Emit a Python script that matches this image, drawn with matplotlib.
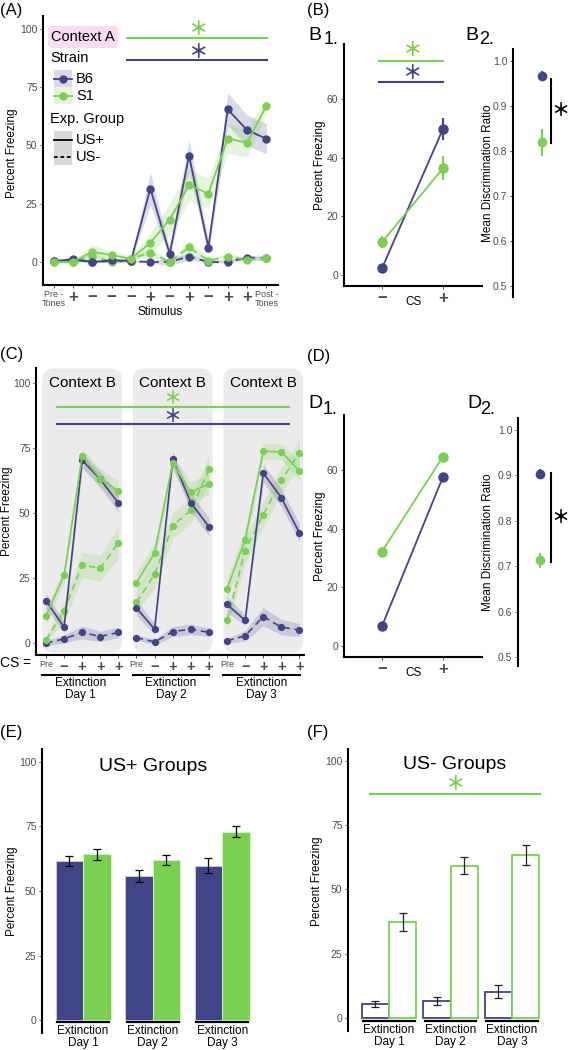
import numpy as np
import matplotlib
matplotlib.use("Agg")
import matplotlib.pyplot as plt
import matplotlib.transforms as mtransforms
from matplotlib.patches import FancyBboxPatch, Rectangle
from matplotlib.lines import Line2D

plt.rcParams["font.family"] = ["Liberation Sans", "DejaVu Sans"]

BLUE = "#414487"   # B6
GREEN = "#7AD151"  # S1
TICK_GREY = "#4D4D4D"

# ---- (A) acquisition, context A ----
a_labels = ["Pre -\nTones", "+", "−", "−", "−", "+", "−", "+", "−", "+", "+", "Post -\nTones"]
a_b6_usp = [0.3, 1.2, 0.0, 0.7, 0.5, 31.5, 3.5, 45.7, 6.2, 65.5, 56.6, 52.9]
a_b6_usp_se = [0.5, 0.8, 0.4, 0.6, 0.6, 7.0, 2.0, 7.0, 3.0, 7.0, 6.5, 6.5]
a_b6_usm = [0.3, 1.0, 0.0, 0.4, 0.3, 0.0, 0.0, 2.3, 0.0, 0.0, 1.9, 1.5]
a_b6_usm_se = [0.5, 0.5, 0.3, 0.5, 0.5, 0.5, 1.5, 1.5, 0.5, 0.5, 1.0, 1.0]
a_s1_usp = [0.0, 0.0, 4.4, 2.9, 1.4, 8.2, 18.2, 33.0, 29.3, 53.0, 51.2, 67.0]
a_s1_usp_se = [0.5, 0.5, 3.0, 1.5, 1.5, 4.0, 7.0, 7.0, 6.5, 6.5, 6.0, 3.5]
a_s1_usm = [0.0, 0.0, 2.5, 0.0, 1.4, 4.0, 0.0, 6.3, 0.6, 2.2, 1.0, 1.6]
a_s1_usm_se = [0.5, 0.5, 2.0, 1.0, 1.0, 2.0, 0.5, 3.0, 1.0, 1.5, 1.0, 1.0]

# ---- (B) CS- vs CS+ and discrimination ratio ----
cs_labels = ["−", "+"]
b1_b6 = [2.3, 49.8]
b1_b6_se = [0.8, 3.8]
b1_s1 = [11.2, 36.4]
b1_s1_se = [2.0, 4.0]
b2_ratio = [0.967, 0.820]   # B6, S1
b2_ratio_se = [0.010, 0.030]

# ---- (C) extinction days, context B ----
c_labels = ["Pre", "−", "+", "+", "+"] * 3
c_b6_usp = [16.3, 6.1, 70.3, 63.0, 53.8, 13.5, 5.3, 70.7, 54.0, 44.7, 14.9, 8.7, 65.4, 55.9, 42.3]
c_b6_usp_se = [3, 2, 3, 3, 3.5, 3, 2, 3, 3.5, 3.5, 3, 2, 3.5, 3.5, 3.5]
c_b6_usm = [0.0, 1.6, 4.1, 2.5, 4.1, 2.1, 0.4, 4.4, 5.3, 4.1, 0.9, 2.8, 10.2, 6.1, 5.0]
c_b6_usm_se = [1, 1.5, 2.5, 2, 2, 1, 1, 2, 2, 1.5, 1, 2, 3.5, 3, 2.5]
c_s1_usp = [10.5, 26.0, 72.0, 63.2, 58.5, 23.2, 34.7, 69.2, 58.0, 61.2, 20.9, 39.8, 73.8, 73.5, 66.3]
c_s1_usp_se = [3, 3, 2.5, 4, 4, 4, 4, 3, 4, 4, 4, 4, 3, 3, 4]
c_s1_usm = [1.2, 12.3, 30.1, 28.7, 38.6, 15.7, 26.4, 45.2, 51.0, 66.9, 8.7, 35.5, 49.4, 62.6, 73.2]
c_s1_usm_se = [1, 4, 5, 5, 6, 4, 5, 5, 5, 5, 3, 5, 5, 5, 5]
days = ["Extinction\nDay 1", "Extinction\nDay 2", "Extinction\nDay 3"]

# ---- (D) extinction summary ----
d1_b6 = [6.8, 57.7]
d1_b6_se = [0.8, 1.2]
d1_s1 = [32.2, 64.6]
d1_s1_se = [1.7, 1.0]
d2_ratio = [0.903, 0.713]
d2_ratio_se = [0.012, 0.017]

# ---- (E) US+ groups, (F) US- groups ----
e_b6 = [61.6, 55.8, 59.8]
e_b6_se = [2.1, 2.4, 2.8]
e_s1 = [64.2, 62.0, 72.9]
e_s1_se = [2.1, 2.1, 2.1]
f_b6 = [5.4, 6.6, 10.2]
f_b6_se = [1.3, 1.4, 2.5]
f_s1 = [37.4, 59.3, 63.5]
f_s1_se = [3.4, 3.2, 3.8]

# ------------------------------------------------------------------
W, H = 570, 1050
fig = plt.figure(figsize=(W / 100, H / 100), dpi=100)
# pixel coords with origin top-left
PX = mtransforms.Affine2D().scale(1 / W, -1 / H).translate(0, 1) + fig.transFigure


def add_ax(left, top, right, bottom):
    return fig.add_axes([left / W, 1 - bottom / H, (right - left) / W, (bottom - top) / H])


def classic(ax, bottom=True):
    ax.set_facecolor("none")
    for side in ["top", "right"]:
        ax.spines[side].set_visible(False)
    ax.spines["left"].set_linewidth(1.5)
    ax.spines["bottom"].set_linewidth(1.5)
    if not bottom:
        ax.spines["bottom"].set_visible(False)
        ax.tick_params(axis="x", bottom=False, labelbottom=False)
    ax.tick_params(colors="#333333", labelcolor=TICK_GREY, labelsize=7.5,
                   length=2.5, width=0.6, pad=1.5)


def style_cs_ticks(ax):
    for lab in ax.get_xticklabels():
        if lab.get_text() in ("+", "−"):
            lab.set_fontweight("bold")
            lab.set_fontsize(12)
        else:
            lab.set_fontsize(6.5)
            lab.set_linespacing(1.0)


def star(ax, x, y, color, size=14):
    # full-width asterisk: big glyph in a small text box
    tr = mtransforms.offset_copy(ax.transData, fig=fig, y=-0.36 * size, units="points")
    ax.text(x, y, "＊", color=color, fontsize=size, fontweight="bold", ha="center",
            va="baseline", family=["Noto Sans CJK JP", "DejaVu Sans"],
            transform=tr, clip_on=False)


def ylabel(ax, text, x_frac, y_frac=0.5):
    ax.set_ylabel(text, fontsize=8.5, va="center")
    ax.yaxis.set_label_coords(x_frac, y_frac)


def trace(ax, x, vals, se, color, dashed, ms=5, lw=1.3):
    vals = np.asarray(vals)
    se = np.asarray(se)
    ax.fill_between(x, vals - se, vals + se, color=color, alpha=0.2, lw=0)
    line, = ax.plot(x, vals, color=color, lw=lw, marker="o", ms=ms)
    if dashed:
        line.set_dashes((4, 2.8))


def panel_label(x, y, s):
    fig.text(x, y, s, transform=PX, fontsize=12, ha="left", va="center")


def sub_label(x, y, letter, num, dx):
    fig.text(x, y, letter, transform=PX, fontsize=14, ha="left", va="center")
    fig.text(x + dx, y + 5, num, transform=PX, fontsize=13, ha="left", va="center")


# ---------------- (A) ----------------
axA = add_ax(43, 16, 278, 285)
classic(axA)
xa = np.arange(len(a_labels))
trace(axA, xa, a_b6_usm, a_b6_usm_se, BLUE, True)
trace(axA, xa, a_s1_usm, a_s1_usm_se, GREEN, True)
trace(axA, xa, a_b6_usp, a_b6_usp_se, BLUE, False)
trace(axA, xa, a_s1_usp, a_s1_usp_se, GREEN, False)
axA.set_xlim(-0.55, 11.6)
axA.set_ylim(-9.9, 105.6)
axA.set_yticks([0, 25, 50, 75, 100])
axA.set_xticks(xa, a_labels)
style_cs_ticks(axA)
axA.tick_params(axis="x", pad=1)
ylabel(axA, "Percent Freezing", -0.132, 0.49)
axA.set_xlabel("Stimulus", fontsize=8.5, va="center")
axA.xaxis.set_label_coords(0.5, -0.10)
axA.plot([3.8, 11.05], [96, 96], color=GREEN, lw=1.5)
axA.plot([3.8, 11.05], [86.7, 86.7], color=BLUE, lw=1.5)
star(axA, 7.45, 100.6, GREEN)
star(axA, 7.45, 90.4, BLUE)

# legend of (A), drawn by hand
fig.add_artist(FancyBboxPatch((48, 26), 70, 22, boxstyle="round,pad=0,rounding_size=4",
                              transform=PX, fc="#f9dbf4", ec="none"))
fig.text(83, 37, "Context A", transform=PX, fontsize=10.5, ha="center", va="center")
fig.text(50, 58, "Strain", transform=PX, fontsize=10.5, ha="left", va="center")
fig.text(50, 119, "Exp. Group", transform=PX, fontsize=10.5, ha="left", va="center")
for y0, fill, alpha, color, dash, name in [
        (70, BLUE, 0.2, BLUE, None, "B6"),
        (87, GREEN, 0.2, GREEN, None, "S1"),
        (131, "#bfbfbf", 0.6, "black", None, "US+"),
        (148, "#bfbfbf", 0.6, "black", (2.0, 1.6), "US-")]:
    fig.add_artist(Rectangle((54, y0), 18, 17, transform=PX, fc=fill, alpha=alpha, ec="none"))
    ln = Line2D([54, 72], [y0 + 8.5, y0 + 8.5], transform=PX, color=color, lw=1.3)
    if dash:
        ln.set_dashes(dash)
    fig.add_artist(ln)
    if name in ("B6", "S1"):
        fig.add_artist(Line2D([63], [y0 + 8.5], transform=PX, color=color, marker="o", ms=5))
    fig.text(76, y0 + 9, name, transform=PX, fontsize=10.5, ha="left", va="center")

# ---------------- (B1) ----------------
axB1 = add_ax(344, 44, 482, 286)
classic(axB1)
xb = np.arange(2)
for vals, se, color in [(b1_b6, b1_b6_se, BLUE), (b1_s1, b1_s1_se, GREEN)]:
    axB1.errorbar(xb, vals, yerr=se, fmt="none", ecolor=color, elinewidth=1.5, capsize=0)
    axB1.plot(xb, vals, color=color, lw=1.3, marker="o", ms=6.5)
axB1.set_xlim(-0.623, 1.639)
axB1.set_ylim(-3.75, 78.75)
axB1.set_yticks([0, 20, 40, 60])
axB1.set_xticks(xb, cs_labels)
style_cs_ticks(axB1)
axB1.tick_params(axis="x", pad=1)
ylabel(axB1, "Percent Freezing", (320 - 344) / 138)
axB1.set_xlabel("CS", fontsize=8.5, va="center")
axB1.xaxis.set_label_coords(0.5, (286 - 302) / 242)
axB1.plot([-0.05, 1.0], [73, 73], color=GREEN, lw=1.5)
axB1.plot([-0.05, 1.0], [65.8, 65.8], color=BLUE, lw=1.5)
star(axB1, 0.487, 77.0, GREEN)
star(axB1, 0.487, 69.2, BLUE)

# ---------------- (B2) ----------------
axB2 = add_ax(513, 49, 570, 297)
classic(axB2, bottom=False)
for i, color in enumerate([BLUE, GREEN]):
    axB2.errorbar(0, b2_ratio[i], yerr=b2_ratio_se[i], fmt="o", color=color,
                  ms=6, elinewidth=1.5, capsize=0)
axB2.set_xlim(-1.036, 1.0)
axB2.set_ylim(0.4756, 1.0267)
axB2.set_yticks([0.5, 0.6, 0.7, 0.8, 0.9, 1.0])
ylabel(axB2, "Mean Discrimination Ratio", (488 - 513) / 57)
axB2.plot([0.32, 0.32], [0.96, 0.818], color="black", lw=1.5, clip_on=False)
star(axB2, 0.64, 0.893, "black", size=13)

# ---------------- (C) ----------------
axC = add_ax(36, 368, 304, 655)
classic(axC)
axC.set_xlim(-0.55, 14.25)
axC.set_ylim(-4.6, 105.8)
x_per = (655 - 368) / (105.8 + 4.6)   # px per y unit
aspect = (268 / (14.25 + 0.55)) / x_per
for d in range(3):
    axC.add_patch(FancyBboxPatch((5 * d - 0.2, -3.8), 4.4, 109.4,
                                 boxstyle="round,pad=0,rounding_size=0.66",
                                 mutation_aspect=aspect, fc="#ebebeb", ec="none",
                                 zorder=0, clip_on=False))
    axC.text(5 * d + 2.0, 100.0, "Context B", fontsize=11, ha="center", va="center")
    xs = np.arange(5 * d, 5 * d + 5)
    sl = slice(5 * d, 5 * d + 5)
    trace(axC, xs, c_b6_usm[sl], c_b6_usm_se[sl], BLUE, True, ms=4.2, lw=1.2)
    trace(axC, xs, c_s1_usm[sl], c_s1_usm_se[sl], GREEN, True, ms=4.2, lw=1.2)
    trace(axC, xs, c_b6_usp[sl], c_b6_usp_se[sl], BLUE, False, ms=4.2, lw=1.2)
    trace(axC, xs, c_s1_usp[sl], c_s1_usp_se[sl], GREEN, False, ms=4.2, lw=1.2)
axC.set_yticks([0, 25, 50, 75, 100])
axC.set_xticks(np.arange(15), c_labels)
style_cs_ticks(axC)
for lab in axC.get_xticklabels():
    if lab.get_text() in ("+", "−"):
        lab.set_fontsize(10.5)
axC.tick_params(axis="x", pad=1)
ylabel(axC, "Percent Freezing", (7 - 36) / 268)
axC.plot([0.6, 13.4], [90.8, 90.8], color=GREEN, lw=1.5)
axC.plot([0.6, 13.4], [84.2, 84.2], color=BLUE, lw=1.5)
star(axC, 6.96, 94.6, GREEN, size=13)
star(axC, 6.96, 87.4, BLUE, size=13)
fig.text(0, 663, "CS =", transform=PX, fontsize=10, ha="left", va="center")
blendC = mtransforms.blended_transform_factory(axC.transData, PX)
for d, name in enumerate(days):
    axC.plot([5 * d - 0.22, 5 * d + 4.03], [675, 675], color="black", lw=1.5,
             transform=blendC, clip_on=False)
    axC.text(5 * d + 1.9, 677, name, transform=blendC, fontsize=8.5,
             ha="center", va="top", linespacing=1.0)

# ---------------- (D1) ----------------
axD1 = add_ax(344, 415, 482, 657)
classic(axD1)
for vals, se, color in [(d1_b6, d1_b6_se, BLUE), (d1_s1, d1_s1_se, GREEN)]:
    axD1.errorbar(xb, vals, yerr=se, fmt="none", ecolor=color, elinewidth=1.5, capsize=0)
    axD1.plot(xb, vals, color=color, lw=1.3, marker="o", ms=6.5)
axD1.set_xlim(-0.623, 1.639)
axD1.set_ylim(-3.75, 78.75)
axD1.set_yticks([0, 20, 40, 60])
axD1.set_xticks(xb, cs_labels)
style_cs_ticks(axD1)
axD1.tick_params(axis="x", pad=1)
ylabel(axD1, "Percent Freezing", (320 - 344) / 138)
axD1.set_xlabel("CS", fontsize=8.5, va="center")
axD1.xaxis.set_label_coords(0.5, (657 - 673) / 242)

# ---------------- (D2) ----------------
axD2 = add_ax(518, 418, 570, 666)
classic(axD2, bottom=False)
for i, color in enumerate([BLUE, GREEN]):
    axD2.errorbar(0, d2_ratio[i], yerr=d2_ratio_se[i], fmt="o", color=color,
                  ms=6, elinewidth=1.5, capsize=0)
axD2.set_xlim(-0.846, 1.154)
axD2.set_ylim(0.480, 1.0264)
axD2.set_yticks([0.5, 0.6, 0.7, 0.8, 0.9, 1.0])
ylabel(axD2, "Mean Discrimination Ratio", (488 - 518) / 52)
axD2.plot([0.423, 0.423], [0.905, 0.71], color="black", lw=1.5, clip_on=False)
star(axD2, 0.77, 0.81, "black", size=13)

# ---------------- (E) ----------------
axE = add_ax(42, 749, 264, 1033)
classic(axE, bottom=False)
xg = np.arange(3)
we = 0.396
axE.bar(xg - we / 2, e_b6, we, color=BLUE, edgecolor="#c9c9de", lw=0.7)
axE.bar(xg + we / 2, e_s1, we, color=GREEN, edgecolor="#d8f2c9", lw=0.7)
axE.errorbar(xg - we / 2, e_b6, yerr=e_b6_se, fmt="none", ecolor="black",
             elinewidth=0.9, capsize=2.6, capthick=0.9)
axE.errorbar(xg + we / 2, e_s1, yerr=e_s1_se, fmt="none", ecolor="black",
             elinewidth=0.9, capsize=2.6, capthick=0.9)
axE.set_xlim(-0.59, 2.6)
axE.set_ylim(-5.0, 105.0)
axE.set_yticks([0, 25, 50, 75, 100])
ylabel(axE, "Percent Freezing", (12 - 42) / 222)
axE.text(1.0, 98.4, "US+ Groups", fontsize=14, ha="center", va="center")
blendE = mtransforms.blended_transform_factory(axE.transData, PX)
for g, name in enumerate(days):
    axE.plot([g - 0.374, g + 0.374], [1022, 1022], color="black", lw=1.6,
             transform=blendE, clip_on=False)
    axE.text(g, 1025, name, transform=blendE, fontsize=8.5, ha="center",
             va="top", linespacing=1.0)

# ---------------- (F) ----------------
axF = add_ax(348, 749, 553, 1031)
classic(axF, bottom=False)
wf = 0.447
axF.bar(xg - wf / 2, f_b6, wf, color="white", edgecolor=BLUE, lw=1.3)
axF.bar(xg + wf / 2, f_s1, wf, color="white", edgecolor=GREEN, lw=1.3)
axF.errorbar(xg - wf / 2, f_b6, yerr=f_b6_se, fmt="none", ecolor="#222222",
             elinewidth=0.9, capsize=2.6, capthick=0.9)
axF.errorbar(xg + wf / 2, f_s1, yerr=f_s1_se, fmt="none", ecolor="#222222",
             elinewidth=0.9, capsize=2.6, capthick=0.9)
axF.set_xlim(-0.667, 2.667)
axF.set_ylim(-5.1, 104.7)
axF.set_yticks([0, 25, 50, 75, 100])
ylabel(axF, "Percent Freezing", (317 - 348) / 205, 0.53)
axF.text(1.07, 98.8, "US- Groups", fontsize=14, ha="center", va="center")
axF.plot([-0.31, 2.46], [87.2, 87.2], color=GREEN, lw=1.5)
star(axF, 1.07, 91.3, GREEN)
blendF = mtransforms.blended_transform_factory(axF.transData, PX)
for g, name in enumerate(days):
    axF.plot([g - 0.42, g + 0.42], [1021, 1021], color="black", lw=1.6,
             transform=blendF, clip_on=False)
    axF.text(g, 1024, name, transform=blendF, fontsize=8.5, ha="center",
             va="top", linespacing=1.0)

# ---------------- panel labels ----------------
panel_label(0, 11, "(A)")
panel_label(307, 10, "(B)")
panel_label(0, 355, "(C)")
panel_label(307, 357, "(D)")
panel_label(0, 733, "(E)")
panel_label(307, 733, "(F)")
sub_label(308, 35, "B", "1.", 16)
sub_label(465, 35, "B", "2.", 14)
sub_label(308, 404, "D", "1.", 15)
sub_label(467, 404, "D", "2.", 13)

fig.savefig("out.png", dpi=100)
